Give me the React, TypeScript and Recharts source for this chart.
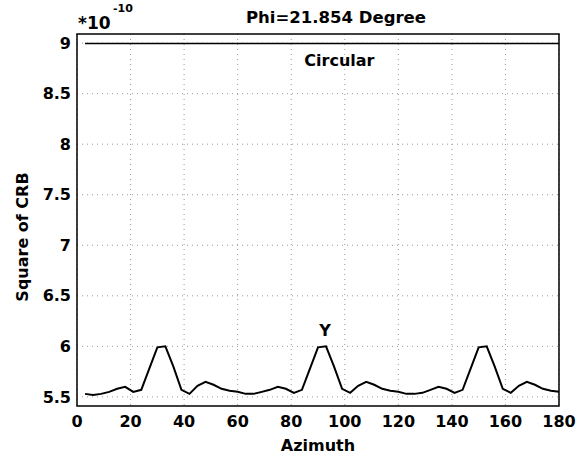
import React from 'react'
import {
  LineChart,
  Line,
  XAxis,
  YAxis,
  CartesianGrid,
  ReferenceArea,
  ReferenceDot,
} from 'recharts'

// azimuth in degrees, sampled every 3 degrees
const azimuth = [
  3, 6, 9, 12, 15, 18, 21, 24, 27, 30, 33, 36, 39, 42, 45, 48, 51, 54, 57, 60,
  63, 66, 69, 72, 75, 78, 81, 84, 87, 90, 93, 96, 99, 102, 105, 108, 111, 114, 117, 120,
  123, 126, 129, 132, 135, 138, 141, 144, 147, 150, 153, 156, 159, 162, 165, 168, 171, 174, 177, 180,
]

// Y polarization CRB (x 1e-10)
const crbY = [
  5.53, 5.52, 5.53, 5.55, 5.58, 5.6, 5.55, 5.57, 5.78, 5.99, 6.0, 5.8, 5.57, 5.53, 5.61, 5.65, 5.62, 5.58, 5.56, 5.55,
  5.53, 5.53, 5.55, 5.57, 5.6, 5.58, 5.54, 5.57, 5.78, 5.99, 6.0, 5.8, 5.58, 5.54, 5.61, 5.65, 5.62, 5.58, 5.56, 5.55,
  5.53, 5.53, 5.54, 5.57, 5.6, 5.58, 5.54, 5.57, 5.78, 5.99, 6.0, 5.8, 5.58, 5.54, 5.61, 5.65, 5.62, 5.58, 5.56, 5.55,
]

// circular polarization CRB, flat
const crbCircular = azimuth.map(() => 8.995)

const xTicks = [0, 20, 40, 60, 80, 100, 120, 140, 160, 180]
const yTicks = [5.5, 6, 6.5, 7, 7.5, 8, 8.5, 9]

const data = azimuth.map((a, i) => ({ az: a, y: crbY[i], circ: crbCircular[i] }))

const FONT = '"DejaVu Sans", Verdana, sans-serif'
const tickStyle = { fontSize: 16, fontWeight: 700, fill: '#000', fontFamily: FONT }
const labelStyle = { fontSize: 16, fontWeight: 700, fill: '#000', fontFamily: FONT }

export default function App() {
  return (
    <div style={{ width: 587, height: 456, background: '#fff' }}>
      <style>{`body{margin:0}`}</style>
      <LineChart
        width={587}
        height={456}
        data={data}
        margin={{ top: 34, right: 28, left: 0, bottom: 0 }}
        style={{ fontFamily: FONT }}
      >
        <CartesianGrid
          stroke="#999"
          strokeDasharray="1 4"
          horizontalValues={yTicks}
          verticalValues={xTicks}
        />
        <XAxis
          dataKey="az"
          type="number"
          domain={[0, 180]}
          ticks={xTicks}
          height={50}
          axisLine={false}
          tickLine={false}
          tickSize={0}
          tickMargin={10}
          tick={tickStyle}
          label={{ value: 'Azimuth', position: 'insideBottom', offset: 5, style: labelStyle }}
        />
        <YAxis
          type="number"
          domain={[5.41, 9.09]}
          ticks={yTicks}
          width={77}
          axisLine={false}
          tickLine={false}
          tickSize={0}
          tickMargin={6}
          tick={tickStyle}
          allowDataOverflow
        />
        <ReferenceArea
          x1={0}
          x2={180}
          y1={5.41}
          y2={9.09}
          fill="none"
          fillOpacity={0}
          stroke="#000"
          strokeWidth={1.5}
        />
        <Line dataKey="circ" stroke="#000" strokeWidth={1.5} dot={false} isAnimationActive={false} />
        <Line dataKey="y" stroke="#000" strokeWidth={2} dot={false} isAnimationActive={false} />
        <ReferenceDot
          x={98}
          y={8.83}
          r={0}
          fill="none"
          stroke="none"
          label={{ value: 'Circular', position: 'center', style: labelStyle }}
        />
        <ReferenceDot
          x={92.6}
          y={6.16}
          r={0}
          fill="none"
          stroke="none"
          label={{ value: 'Y', position: 'center', style: labelStyle }}
        />
        <text x={336} y={23} textAnchor="middle" fontSize={16.5} fontWeight={700} fontFamily={FONT}>
          Phi=21.854 Degree
        </text>
        <text x={78} y={29} fontSize={17} fontWeight={700} fontFamily={FONT}>
          *10
        </text>
        <text x={113} y={12} fontSize={11} fontWeight={700} fontFamily={FONT}>
          -10
        </text>
        <text
          x={22}
          y={237}
          transform="rotate(-90 22 237)"
          textAnchor="middle"
          dominantBaseline="central"
          fontSize={16}
          fontWeight={700}
          fontFamily={FONT}
        >
          Square of CRB
        </text>
      </LineChart>
    </div>
  )
}
